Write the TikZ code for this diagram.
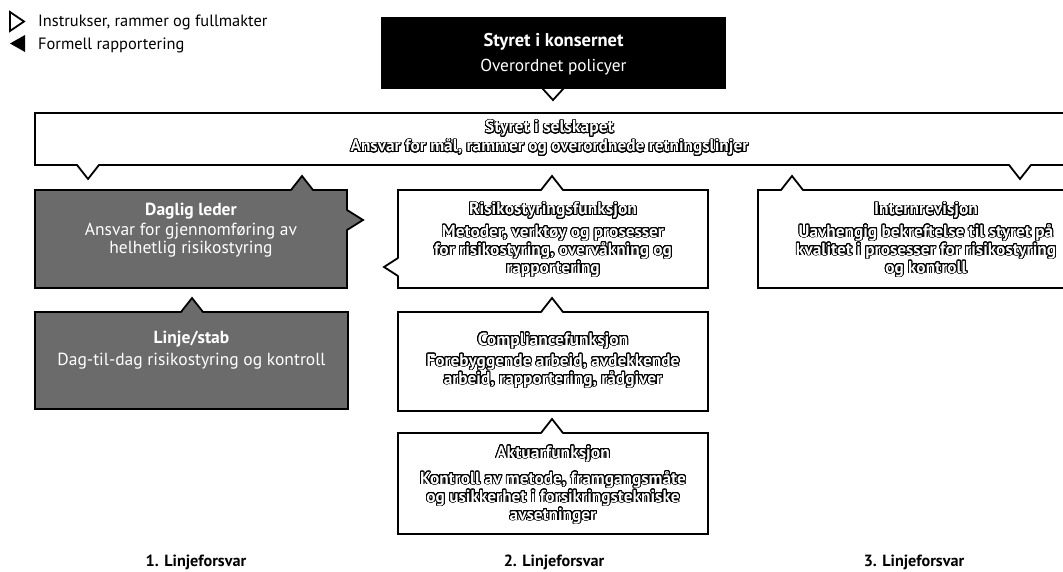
\documentclass[tikz,border=0pt]{standalone}
\usepackage{fontspec}
\setmainfont{PT Sans}
\usepackage{contour}
\contourlength{0.85pt}
\contournumber{28}
\usetikzlibrary{calc}

% white letters with a black rim
\newcommand\hollow[1]{\textcolor{white}{\contour{black}{#1}}}

% speech-bubble pointers sitting on a box edge
\newcommand\tipup[3]{%
  \fill[#3] ($(#1.north west)+(#2-11,1.5)$) -- ($(#1.north west)+(#2,-14)$) -- ($(#1.north west)+(#2+11,1.5)$) -- cycle;
  \draw[edge] ($(#1.north west)+(#2-11,0)$) -- ($(#1.north west)+(#2,-14)$) -- ($(#1.north west)+(#2+11,0)$);}
\newcommand\tipdown[3]{%
  \fill[#3] ($(#1.south west)+(#2-11,-1.5)$) -- ($(#1.south west)+(#2,14)$) -- ($(#1.south west)+(#2+11,-1.5)$) -- cycle;
  \draw[edge] ($(#1.south west)+(#2-11,0)$) -- ($(#1.south west)+(#2,14)$) -- ($(#1.south west)+(#2+11,0)$);}
\newcommand\tipright[3]{%
  \fill[#3] ($(#1.north east)+(-1.5,#2-10)$) -- ($(#1.north east)+(16,#2)$) -- ($(#1.north east)+(-1.5,#2+10)$) -- cycle;
  \draw[edge] ($(#1.north east)+(0,#2-10)$) -- ($(#1.north east)+(16,#2)$) -- ($(#1.north east)+(0,#2+10)$);}
\newcommand\tipleft[3]{%
  \fill[#3] ($(#1.north west)+(1.5,#2-9)$) -- ($(#1.north west)+(-14,#2)$) -- ($(#1.north west)+(1.5,#2+9)$) -- cycle;
  \draw[edge] ($(#1.north west)+(0,#2-9)$) -- ($(#1.north west)+(-14,#2)$) -- ($(#1.north west)+(0,#2+9)$);}

\begin{document}
\begin{tikzpicture}[x=1pt,y=-1pt,
  edge/.style={draw=black, line width=1.8pt, line join=miter},
  frame/.style={edge, rectangle, outer sep=0pt, inner sep=0pt, anchor=north west},
  light/.style={frame, fill=white},
  shaded/.style={frame, fill=black!58},
  night/.style={frame, fill=black},
  txt/.style={inner sep=0pt, anchor=base},
  head/.style={txt, font=\fontsize{17.5}{20}\selectfont\bfseries},
  body/.style={txt, font=\fontsize{17.3}{19}\selectfont\bfseries},
  bodyw/.style={txt, text=white, font=\fontsize{17.5}{19}\selectfont},
  legend/.style={inner sep=0pt, anchor=base west, font=\fontsize{16.4}{18}\selectfont},
  level/.style={txt, font=\fontsize{16.2}{18}\selectfont\bfseries},
]
\useasboundingbox (0,0) rectangle (1063,572);

% legend
\filldraw[edge, fill=white] (10,12) -- (24,21.5) -- (10,31) -- cycle;
\fill (25,35) -- (10,43.5) -- (25,52) -- cycle;
\node[legend] (lg1) at (38,27) {Instrukser, rammer og fullmakter};
\node[legend] (lg2) at (38,50) {Formell rapportering};

% boxes
\node[night, minimum width=343pt, minimum height=70pt] (ks) at (382,18) {};
\node[light, minimum width=1029pt, minimum height=52pt] (ss) at (35,113) {};
\node[shaded, minimum width=312pt, minimum height=98pt] (dl) at (35,190) {};
\node[shaded, minimum width=313pt, minimum height=97pt] (ls) at (35,312) {};
\node[light, minimum width=310pt, minimum height=98pt] (ri) at (398,190) {};
\node[light, minimum width=336pt, minimum height=98pt] (ir) at (758,190) {};
\node[light, minimum width=310pt, minimum height=99pt] (co) at (398,312) {};
\node[light, minimum width=310pt, minimum height=101pt] (ak) at (398,433) {};

% instructions going down
\filldraw[edge, fill=white] ($(ks.south west)+(160,0)$) -- ($(ks.south west)+(171,12)$) -- ($(ks.south west)+(182,0)$) -- cycle;
\tipdown{ss}{53}{white}
\tipdown{ss}{985}{white}
\tipright{dl}{30}{black!58}
% reporting going up
\tipup{dl}{267}{black!58}
\tipup{ls}{157}{black!58}
\tipup{ri}{154}{white}
\tipleft{ri}{77}{white}
\tipup{ir}{34}{white}
\tipup{co}{154}{white}
\tipup{ak}{154}{white}

% texts
\node[txt, text=white, font=\fontsize{18.5}{21}\selectfont\bfseries] (ks1) at (ks.center |- 0,47) {Styret i konsernet};
\node[txt, text=white, font=\fontsize{17.3}{20}\selectfont] (ks2) at (ks.center |- 0,72) {Overordnet policyer};

\node[head] (ss1) at (ss.center |- 0,133) {\hollow{Styret i selskapet}};
\node[body] (ss2) at (ss.center |- 0,152) {\hollow{Ansvar for mål, rammer og overordnede retningslinjer}};

\node[head, text=white] (dl1) at (dl.center |- 0,216) {Daglig leder};
\node[bodyw] (dl2) at (dl.center |- 0,236) {Ansvar for gjennomføring av};
\node[bodyw] (dl3) at (dl.center |- 0,254) {helhetlig risikostyring};

\node[head, text=white] (ls1) at (ls.center |- 0,343) {Linje/stab};
\node[bodyw] (ls2) at (ls.center |- 0,365) {Dag-til-dag risikostyring og kontroll};

\node[head] (ri1) at (ri.center |- 0,215) {\hollow{Risikostyringsfunksjon}};
\node[body] (ri2) at (ri.center |- 0,237) {\hollow{Metoder, verktøy og prosesser}};
\node[body] (ri3) at (ri.center |- 0,255) {\hollow{for risikostyring, overvåkning og}};
\node[body] (ri4) at (ri.center |- 0,273) {\hollow{rapportering}};

\node[head] (ir1) at (ir.center |- 0,215) {\hollow{Internrevisjon}};
\node[body] (ir2) at (ir.center |- 0,237) {\hollow{Uavhengig bekreftelse til styret på}};
\node[body] (ir3) at (ir.center |- 0,255) {\hollow{kvalitet i prosesser for risikostyring}};
\node[body] (ir4) at (ir.center |- 0,273) {\hollow{og kontroll}};

\node[head] (co1) at (co.center |- 0,345) {\hollow{Compliancefunksjon}};
\node[body] (co2) at (co.center |- 0,366) {\hollow{Forebyggende arbeid, avdekkende}};
\node[body] (co3) at (co.center |- 0,384) {\hollow{arbeid, rapportering, rådgiver}};

\node[head] (ak1) at (ak.center |- 0,458) {\hollow{Aktuarfunksjon}};
\node[body] (ak2) at (ak.center |- 0,484) {\hollow{Kontroll av metode, framgangsmåte}};
\node[body] (ak3) at (ak.center |- 0,502) {\hollow{og usikkerhet i forsikringstekniske}};
\node[body] (ak4) at (ak.center |- 0,520) {\hollow{avsetninger}};

% lines of defence
\node[level] (lf1) at (196,566) {1. Linjeforsvar};
\node[level] (lf2) at (554,566) {2. Linjeforsvar};
\node[level] (lf3) at (914,566) {3. Linjeforsvar};
\end{tikzpicture}
\end{document}
